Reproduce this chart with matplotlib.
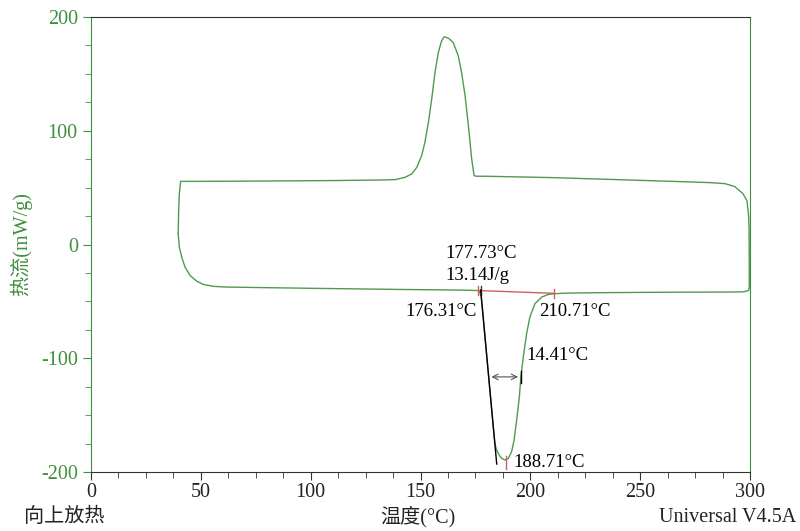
import matplotlib
matplotlib.use('Agg')
import matplotlib.pyplot as plt
from matplotlib.ticker import MultipleLocator

plt.rcParams['font.family'] = ['Liberation Serif', 'Noto Sans CJK SC', 'DejaVu Sans']
plt.rcParams['axes.unicode_minus'] = False

# heating run (lower curve), 40 -> 300 C
heat_t = [39.7, 40.2, 41.3, 42.8, 45.1, 48.1, 51.1, 55.7, 61.8, 81.5, 100, 120,
          140, 160, 172, 176.3, 177.0, 177.6, 178.2, 179.0, 180.0, 181.0, 182.0,
          183.0, 183.9, 184.6, 185.4, 186.2, 187.0, 188.5, 190.0, 191.5, 192.6,
          193.8, 195.0, 195.7, 196.8, 198.3, 199.8, 202.1, 205.2, 208.2, 211.2,
          215, 230, 250, 270, 290, 297, 299.3, 299.7]
heat_q = [9.4, -2.3, -11.1, -19.9, -27.2, -32.2, -35.1, -36.8, -37.4, -38.0,
          -38.5, -39.0, -39.5, -39.9, -40.2, -40.5, -42, -46, -57, -74, -95,
          -116, -137, -158, -175, -180.5, -183.6, -186.2, -188, -189.5, -188,
          -182, -172, -154, -134, -116.4, -98.8, -78.4, -63.8, -52, -46.2,
          -43.9, -43.3, -42.8, -42.4, -42.1, -41.9, -41.8, -41.6, -40.5, -38]

# cooling run (upper curve), 300 -> 40 C
cool_t = [299.7, 299.6, 299.4, 298.6, 296.8, 293.1, 288.6, 281.8, 268, 240,
          210, 185, 179.4, 175.6, 174.4, 173.3, 171.8, 170.3, 168.7, 167.2,
          164.9, 163.0, 161.9, 160.8, 159.6, 158.1, 156.6, 155.1, 153.6, 152.0,
          150.5, 148.3, 146.0, 142.9, 138.4, 131.5, 110, 80, 50, 42, 40.8, 40.2,
          39.9, 39.7]
cool_q = [-38, 12, 25, 38.6, 44.7, 50.9, 53.5, 54.4, 55.3, 57.0, 58.8, 59.8,
          60.0, 60.0, 60.5, 75.2, 104.4, 130.7, 151.2, 165.8, 177.5, 181.0,
          181.9, 182.7, 179.0, 168.7, 151.2, 127.8, 107.3, 89.8, 78.0, 67.8,
          62.0, 59.0, 57.0, 56.7, 56.2, 55.8, 55.5, 55.5, 55.5, 44.5, 29.8, 9.4]

onset_t, onset_q = 177.73, -40.6
start_t, end_t = 176.31, 210.71
start_q, end_q = -40.5, -42.9
peak_t, peak_q = 188.71, -192
width_y = -116.4
width_l, width_r = 181.0, 195.7

green = '#4f9a4f'
axgreen = '#3f8f3f'
red = '#cf5f5f'

fig = plt.figure(figsize=(8, 5.31), dpi=100)
ax = fig.add_axes([91/800, 1 - 472/531, 659/800, 455/531])

ax.plot(heat_t, heat_q, color=green, lw=1.0)
ax.plot(cool_t, cool_q, color=green, lw=1.0)

# analysis marks
ax.plot([start_t, end_t], [start_q, end_q], color=red, lw=1.0)
for t, q in [(start_t, start_q), (end_t, end_q)]:
    ax.plot([t, t], [q - 4, q + 4], color=red, lw=1.0)
ax.plot([onset_t, onset_t], [onset_q - 4, onset_q + 4], color='#603030', lw=1.0)
ax.plot([177.4, 184.7], [-40, -193], color='black', lw=1.0)
ax.plot([width_r, width_r], [width_y - 5, width_y + 5], color='black', lw=1.0)
ax.annotate('', xy=(width_l, width_y), xytext=(width_r, width_y),
            arrowprops=dict(arrowstyle='<->', color='#555555', lw=0.8))
ax.plot([peak_t, peak_t], [peak_q - 5, peak_q + 6], color=red, lw=1.0)

fs = 13.5
ax.text(161.5, -8, '177.73°C', fontsize=fs, va='center')
ax.text(161.5, -27, '13.14J/g', fontsize=fs, va='center')
ax.text(175.5, -59, '176.31°C', fontsize=fs, va='center', ha='right')
ax.text(204, -59, '210.71°C', fontsize=fs, va='center')
ax.text(198, -98, '14.41°C', fontsize=fs, va='center')
ax.text(192.5, -191.5, '188.71°C', fontsize=fs, va='center')

ax.set_xlim(0, 300)
ax.set_ylim(-200, 200)
ax.xaxis.set_major_locator(MultipleLocator(50))
ax.xaxis.set_minor_locator(MultipleLocator(12.5))
ax.yaxis.set_major_locator(MultipleLocator(100))
ax.yaxis.set_minor_locator(MultipleLocator(25))

for side in ['left', 'right']:
    ax.spines[side].set_color(axgreen)
for side in ['top', 'bottom']:
    ax.spines[side].set_color('#333333')
ax.tick_params(axis='y', which='both', colors=axgreen, labelsize=14.5, direction='out')
ax.tick_params(axis='y', which='major', length=6)
ax.tick_params(axis='y', which='minor', length=4)
ax.tick_params(axis='x', which='major', length=6, colors='#333333', labelsize=14.5,
               labelcolor='#222222', direction='out', pad=2)
ax.tick_params(axis='x', which='minor', length=4, colors='#333333', direction='out')
ax.tick_params(axis='both', which='both', right=False, top=False)

ax.set_ylabel('热流(mW/g)', color=axgreen, fontsize=14.5, labelpad=6)

fig.text(24/800, 1 - 517/531, '向上放热', fontsize=14.5, va='center', ha='left', color='#222222')
fig.text(418/800, 1 - 517/531, '温度(°C)', fontsize=14.5, va='center', ha='center', color='#222222')
fig.text(796/800, 1 - 517/531, 'Universal V4.5A', fontsize=14.5, va='center', ha='right', color='#222222')

fig.savefig('out.png', dpi=100)
